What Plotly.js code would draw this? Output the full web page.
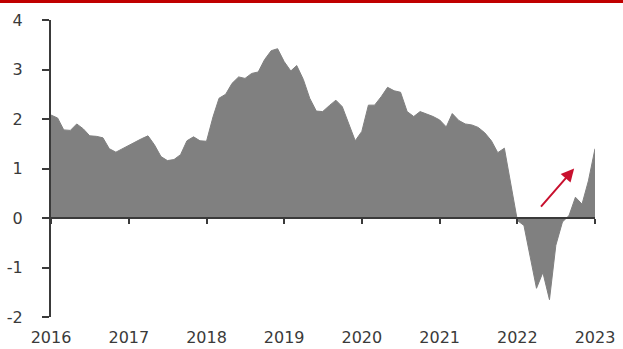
<!DOCTYPE html>
<html>
<head>
<meta charset="utf-8">
<script src="https://cdn.plot.ly/plotly-3.0.1.min.js"></script>
<style>
  html, body { margin: 0; padding: 0; background: #ffffff; }
  #chart { width: 623px; height: 349px; }
</style>
</head>
<body>
<div id="chart"></div>
<script>
// Monthly readings, Jan 2016 through Jan 2023
const startYear = 2016;
const values2016 = [2.08, 2.02, 1.78, 1.77, 1.90, 1.80, 1.66, 1.65, 1.62, 1.40, 1.33, 1.40];
const values2017 = [1.46, 1.53, 1.60, 1.66, 1.48, 1.24, 1.16, 1.18, 1.28, 1.56, 1.64, 1.56];
const values2018 = [1.55, 2.05, 2.42, 2.50, 2.72, 2.85, 2.82, 2.92, 2.95, 3.20, 3.38, 3.42];
const values2019 = [3.16, 2.97, 3.08, 2.80, 2.42, 2.16, 2.15, 2.27, 2.38, 2.25, 1.90, 1.56];
const values2020 = [1.75, 2.28, 2.28, 2.45, 2.64, 2.57, 2.54, 2.15, 2.05, 2.15, 2.10, 2.05];
const values2021 = [1.98, 1.84, 2.11, 1.97, 1.90, 1.88, 1.83, 1.72, 1.56, 1.32, 1.41, 0.70];
const values2022 = [-0.05, -0.15, -0.78, -1.42, -1.10, -1.65, -0.55, -0.08, 0.05, 0.42, 0.28, 0.75];
const values2023 = [1.40];

const yearLabels = ['2016', '2017', '2018', '2019', '2020', '2021', '2022', '2023'];
const yTickValues = [-2, -1, 0, 1, 2, 3, 4];
const yTickLabels = ['-2', '-1', '0', '1', '2', '3', '4'];

// Trend arrow in the 2022 rebound (tail -> head)
const arrowTail = { date: '2022-04-16', value: 0.2 };
const arrowHead = { date: '2022-09-25', value: 1.0 };

const values = [].concat(values2016, values2017, values2018, values2019,
                         values2020, values2021, values2022, values2023);

// one date per month, starting January of the first year
const dates = values.map(function (_, i) {
  const y = startYear + Math.floor(i / 12);
  const m = (i % 12) + 1;
  return y + '-' + (m < 10 ? '0' + m : m) + '-01';
});
const yearDates = yearLabels.map(function (y) { return y + '-01-01'; });

const axisColor = '#3a3a3a';
const tickFont = { family: 'DejaVu Sans, Verdana, sans-serif', size: 16, color: '#3a3a3a' };

const trace = {
  type: 'scatter',
  mode: 'lines',
  x: dates,
  y: values,
  fill: 'tozeroy',
  fillcolor: '#808080',
  line: { color: '#808080', width: 1 },
  hoverinfo: 'x+y'
};

const layout = {
  width: 623,
  height: 349,
  margin: { l: 51, r: 28, t: 20, b: 32 },
  paper_bgcolor: '#ffffff',
  plot_bgcolor: '#ffffff',
  showlegend: false,
  xaxis: {
    type: 'date',
    range: [yearDates[0], yearDates[yearDates.length - 1]],
    anchor: 'free',
    position: 1 / 3,
    showline: true,
    linecolor: axisColor,
    linewidth: 2,
    ticks: 'outside',
    ticklen: 5,
    tickwidth: 2,
    tickcolor: axisColor,
    tickvals: yearDates,
    ticktext: yearLabels,
    ticklabelstandoff: 100,
    tickfont: tickFont,
    showgrid: false,
    zeroline: false
  },
  yaxis: {
    range: [-2, 4],
    showline: true,
    linecolor: axisColor,
    linewidth: 2,
    ticks: 'outside',
    ticklen: 7,
    tickwidth: 2,
    tickcolor: axisColor,
    tickvals: yTickValues,
    ticktext: yTickLabels,
    ticklabelstandoff: 16,
    tickfont: tickFont,
    showgrid: false,
    zeroline: false
  },
  shapes: [
    {
      // red rule across the top edge
      type: 'rect',
      xref: 'paper', yref: 'paper',
      x0: -51 / 544, x1: 572 / 544,
      y0: 314 / 297, y1: 318 / 297,
      fillcolor: '#c00000',
      line: { width: 0 },
      layer: 'above'
    }
  ],
  annotations: [
    {
      xref: 'x', yref: 'y', axref: 'x', ayref: 'y',
      x: arrowHead.date, y: arrowHead.value,
      ax: arrowTail.date, ay: arrowTail.value,
      text: '',
      showarrow: true,
      arrowhead: 2,
      arrowsize: 1.3,
      arrowwidth: 2,
      arrowcolor: '#c8102e'
    }
  ]
};

Plotly.newPlot('chart', [trace], layout, { displayModeBar: false, staticPlot: true });
</script>
</body>
</html>
